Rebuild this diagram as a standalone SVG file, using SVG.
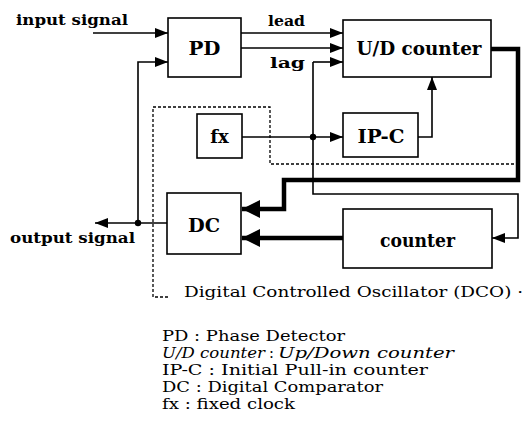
<svg xmlns="http://www.w3.org/2000/svg" width="525" height="435" viewBox="0 0 525 435">
<style>
.box{fill:#fff;stroke:#000;stroke-width:1.6}
.lbl{font-family:"DejaVu Serif","Liberation Serif",serif;font-weight:bold;font-size:18px;fill:#000;text-anchor:middle}
.sig{font-family:"DejaVu Serif","Liberation Serif",serif;font-weight:bold;font-size:14px;fill:#000}
.leg{font-family:"DejaVu Serif","Liberation Serif",serif;font-size:14.5px;fill:#000}
.it{font-style:italic}
.thin{fill:none;stroke:#000;stroke-width:1.6}
.thick{fill:none;stroke:#000;stroke-width:4.5}
.dash{fill:none;stroke:#000;stroke-width:1.3;stroke-dasharray:3,2}
</style>
<defs>
<marker id="a" markerUnits="userSpaceOnUse" markerWidth="13" markerHeight="10" refX="13" refY="5" orient="auto"><path d="M0,0L13,5L0,10z" fill="#000"/></marker>
<marker id="b" markerUnits="userSpaceOnUse" markerWidth="18" markerHeight="18" refX="18" refY="9" orient="auto"><path d="M0,0L18,9L0,18z" fill="#000"/></marker>
</defs>
<g id="dco-boundary">
<path class="dash" d="M168,297H153V107H270V164H518"/>
</g>
<g id="connectors">
<path class="thin" d="M93,33H168" marker-end="url(#a)"/>
<path class="thin" d="M241,33H343" marker-end="url(#a)"/>
<path class="thin" d="M241,48H343" marker-end="url(#a)"/>
<path class="thin" d="M313,62H343" marker-end="url(#a)"/>
<path class="thin" d="M313,62V194H518V238H492" marker-end="url(#a)"/>
<path class="thin" d="M242,137H343" marker-end="url(#a)"/>
<path class="thin" d="M418,137H432V77" marker-end="url(#a)"/>
<path class="thin" d="M167,223H95" marker-end="url(#a)"/>
<path class="thin" d="M138,223V62H168" marker-end="url(#a)"/>
<path class="thick" d="M491,49H518V180H284V209H242" marker-end="url(#b)"/>
<path class="thick" d="M343,238H242" marker-end="url(#b)"/>
<circle cx="313" cy="137" r="3.2" fill="#000"/>
<circle cx="138" cy="223" r="3.2" fill="#000"/>
</g>
<g id="PD"><rect class="box" x="168" y="18" width="73" height="59"/><text class="lbl" x="204.5" y="55" textLength="32" lengthAdjust="spacingAndGlyphs">PD</text></g>
<g id="UD"><rect class="box" x="343" y="20" width="148" height="57"/><text class="lbl" x="419" y="55" textLength="125" lengthAdjust="spacingAndGlyphs">U/D counter</text></g>
<g id="fx"><rect class="box" x="197" y="114" width="45" height="44"/><text class="lbl" x="219.5" y="143">fx</text></g>
<g id="IPC"><rect class="box" x="343" y="113" width="75" height="44"/><text class="lbl" x="381" y="143" textLength="47" lengthAdjust="spacingAndGlyphs">IP-C</text></g>
<g id="DC"><rect class="box" x="167" y="193" width="74" height="61"/><text class="lbl" x="204" y="232" textLength="32" lengthAdjust="spacingAndGlyphs">DC</text></g>
<g id="counter"><rect class="box" x="343" y="209" width="149" height="59"/><text class="lbl" x="417.5" y="247" textLength="75" lengthAdjust="spacingAndGlyphs">counter</text></g>
<g id="labels">
<text class="sig" x="16" y="25" textLength="112" lengthAdjust="spacingAndGlyphs">input signal</text>
<text class="sig" x="10" y="243" textLength="125" lengthAdjust="spacingAndGlyphs">output signal</text>
<text class="sig" x="268" y="26" textLength="37" lengthAdjust="spacingAndGlyphs">lead</text>
<text class="sig" x="270" y="68" textLength="35" lengthAdjust="spacingAndGlyphs">lag</text>
<text class="leg" x="184" y="297" textLength="339" lengthAdjust="spacingAndGlyphs">Digital Controlled Oscillator (DCO) ·</text>
</g>
<g id="legend">
<text class="leg" x="162" y="341" textLength="183" lengthAdjust="spacingAndGlyphs">PD : Phase Detector</text>
<text class="leg it" x="162" y="358" textLength="103" lengthAdjust="spacingAndGlyphs">U/D counter</text>
<text class="leg" x="269" y="358">:</text>
<text class="leg it" x="278" y="358" textLength="176" lengthAdjust="spacingAndGlyphs">Up/Down counter</text>
<text class="leg" x="162" y="375" textLength="266" lengthAdjust="spacingAndGlyphs">IP-C : Initial Pull-in counter</text>
<text class="leg" x="162" y="392" textLength="221" lengthAdjust="spacingAndGlyphs">DC : Digital Comparator</text>
<text class="leg" x="162" y="409" textLength="133" lengthAdjust="spacingAndGlyphs">fx : fixed clock</text>
</g>
</svg>
